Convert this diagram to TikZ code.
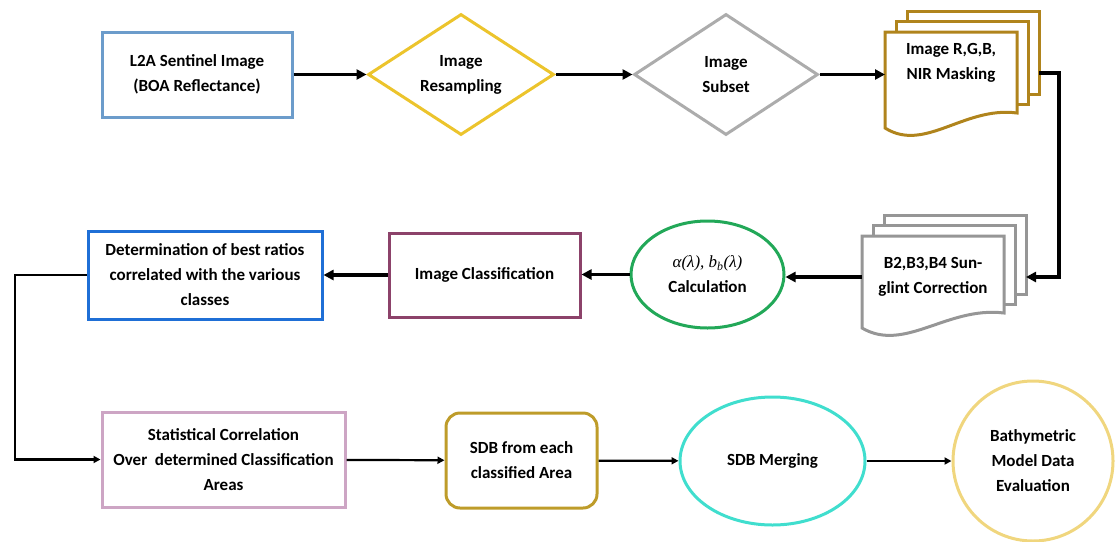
\documentclass[tikz,border=0pt]{standalone}
\usepackage{fontspec}
\setmainfont{Carlito}
\newfontfamily\eqfont{Liberation Serif}
\usetikzlibrary{arrows.meta, shapes.geometric, calc}

\definecolor{boaBlue}{RGB}{108,156,203}
\definecolor{resampGold}{RGB}{236,196,44}
\definecolor{subsetGray}{RGB}{172,172,172}
\definecolor{maskGold}{RGB}{176,132,28}
\definecolor{glintGray}{RGB}{150,150,150}
\definecolor{calcGreen}{RGB}{34,168,88}
\definecolor{classPlum}{RGB}{140,66,106}
\definecolor{determBlue}{RGB}{31,111,214}
\definecolor{statMauve}{RGB}{205,165,196}
\definecolor{sdbOlive}{RGB}{190,156,42}
\definecolor{mergeCyan}{RGB}{64,222,206}
\definecolor{evalGold}{RGB}{240,214,126}

% stack of three sheets: name, x, y (front top left), width, height, colour, text y, text
\newcommand{\docstack}[8]{%
  \draw[docline=#6] ({#2+22},{#3-21}) rectangle ++(#4,#5);
  \draw[docline=#6] ({#2+11},{#3-10.5}) rectangle ++(#4,#5);
  \draw[docline=#6] (#2,#3) -- ++(#4,0) -- ++(0,{#5-2})
    .. controls ({#2+0.6*#4},{#3+#5-9}) and ({#2+0.3*#4},{#3+#5+38}) .. (#2,{#3+#5+13}) -- cycle;
  \node[label text] (#1) at ({#2+#4/2},{#3+#7}) {#8};
  \coordinate (#1-w) at (#2,{#3+41});
  \coordinate (#1-e) at ({#2+#4+22},{#3+41});
}

\begin{document}
\begin{tikzpicture}[x=1pt,y=-1pt]
  \useasboundingbox (0,0) rectangle (1115,541);

  \tikzset{
    label text/.style={align=center,font=\fontsize{17}{25}\selectfont\bfseries,inner sep=0pt},
    stepbox/.style={label text,draw=#1,line width=3pt,fill=white},
    docline/.style={draw=#1,line width=3pt,fill=white},
    flow/.style={line width=3.4pt,-{Triangle[length=10pt,width=10pt]}},
    thinflow/.style={line width=2.2pt,-{Triangle[length=7pt,width=7pt]}},
  }

  % first row
  \node[stepbox=boaBlue,minimum width=190pt,minimum height=85pt] (l2a) at (197,74.5) {L2A Sentinel Image\\(BOA Reflectance)};
  \node[stepbox=resampGold,shape=diamond,minimum width=186pt,minimum height=121pt] (resamp) at (461,74.5) {Image\\Resampling};
  \node[stepbox=subsetGray,shape=diamond,minimum width=184pt,minimum height=121pt] (subset) at (726,74.5) {Image\\Subset};
  \docstack{mask}{885}{32}{132}{83}{maskGold}{31}{Image R,G,B,\\NIR Masking}

  % second row
  \docstack{glint}{862}{236}{142}{79}{glintGray}{41}{B2,B3,B4 Sun-\\glint Correction}
  \node[stepbox=calcGreen,shape=ellipse,minimum width=153pt,minimum height=107pt] (calc) at (707.5,274.5) {{\eqfont\mdseries\itshape α(λ), b\textsubscript{b}(λ)}\\Calculation};
  \node[stepbox=classPlum,minimum width=191pt,minimum height=84pt] (classif) at (484.5,275) {Image Classification};
  \node[stepbox=determBlue,minimum width=234pt,minimum height=88pt] (determ) at (205,275) {Determination of best ratios\\correlated with the various\\classes};

  % third row
  \node[stepbox=statMauve,minimum width=243pt,minimum height=95pt] (stat) at (223.5,459.5) {Statistical Correlation\\Over\ \ determined Classification\\Areas};
  \node[stepbox=sdbOlive,rounded corners=14pt,minimum width=151pt,minimum height=95pt] (sdb) at (521.5,460.5) {SDB from each\\classified Area};
  \node[stepbox=mergeCyan,shape=ellipse,minimum width=185pt,minimum height=128pt] (merge) at (772.5,461) {SDB Merging};
  \node[stepbox=evalGold,shape=circle,minimum size=160pt] (eval) at (1033,461) {Bathymetric\\Model Data\\Evaluation};

  \coordinate (turnR) at (1059,150);
  \coordinate (turnL) at (15,360);

  \draw[flow] (l2a) -- (resamp);
  \draw[flow] (resamp) -- (subset);
  \draw[flow] (subset.east) -- (subset.east -| mask-w);
  \draw[flow] (mask-e) -| (turnR) |- (glint-e);
  \draw[flow] (glint-w) -- (calc.east |- glint-w);
  \draw[flow] (calc.west) -- (classif.east |- calc.west);
  \draw[flow] (classif) -- (determ);
  \draw[thinflow] (determ.west) -| (turnL) |- (stat.west);
  \draw[thinflow] (stat) -- (sdb);
  \draw[thinflow] (sdb) -- (merge);
  \draw[thinflow] (merge) -- (eval);
\end{tikzpicture}
\end{document}
